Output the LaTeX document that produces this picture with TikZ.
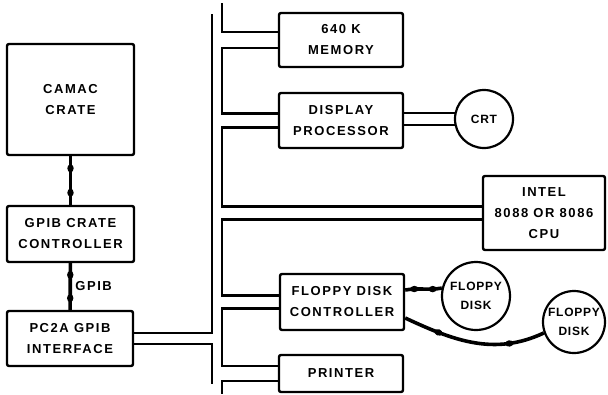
\documentclass[tikz,border=0pt]{standalone}
\usepackage{fontspec}
\newfontfamily\diagfont[LetterSpace=12.0]{Liberation Sans}
\newfontfamily\diskfont[LetterSpace=6.0]{Liberation Sans}
\usetikzlibrary{decorations.markings, calc}

\begin{document}
\begin{tikzpicture}[
    x=1pt, y=-1pt,
    box/.style={rectangle, draw=black, line width=2.4pt, rounded corners=2pt,
                minimum width=124pt, minimum height=55pt, inner sep=0pt,
                align=center, font=\diagfont\bfseries\fontsize{13}{21}\selectfont},
    disk/.style={circle, draw=black, line width=2.2pt, inner sep=0pt,
                align=center, font=\diskfont\bfseries\fontsize{12}{19}\selectfont},
    bus/.style={line width=2.3pt},
    link/.style={line width=3.6pt, postaction={decorate},
                decoration={markings,
                  mark=at position 0.25 with {\fill (0,0) ellipse (4pt and 3.2pt);},
                  mark=at position 0.75 with {\fill (0,0) ellipse (4pt and 3.2pt);}}},
    label/.style={font=\diagfont\bfseries\fontsize{13}{14}\selectfont}
]
\useasboundingbox (0,0) rectangle (608,394);

\node[box, minimum width=127pt, minimum height=111pt] (camac) at (70.5,99.5) {CAMAC\\CRATE};
\node[box, minimum width=127pt, minimum height=56pt] (gpibctl) at (70.5,234) {GPIB CRATE\\CONTROLLER};
\node[box, minimum width=126pt, minimum height=55pt] (pcia) at (70,338.5) {PC2A GPIB\\INTERFACE};

\node[box, minimum height=54pt] (memory) at (341,40) {640 K\\MEMORY};
\node[box] (display) at (341,120.5) {DISPLAY\\PROCESSOR};
\node[disk, minimum size=58pt] (crt) at (484,119) {CRT};
\node[box, minimum width=122pt, minimum height=74pt] (intel) at (544,213) {INTEL\\8088 OR 8086\\CPU};
\node[box, minimum height=56pt] (fdc) at (342,302) {FLOPPY DISK\\CONTROLLER};
\node[disk, minimum size=68pt] (fd1) at (476,296) {FLOPPY\\DISK};
\node[disk, minimum size=62pt] (fd2) at (574,322) {FLOPPY\\DISK};
\node[box, minimum height=37pt] (printer) at (341,373.5) {PRINTER};

\coordinate (busI) at (222,0);
\coordinate (busItop) at (222,3);
\coordinate (busIbot) at (222,394);
\coordinate (busOtop) at (212,14);
\coordinate (busObot) at (212,384);
\coordinate (memA) at ([yshift=8pt]memory.west);
\coordinate (memB) at ([yshift=-8pt]memory.west);
\coordinate (dspA) at ([yshift=7pt]display.west);
\coordinate (dspB) at ([yshift=-7pt]display.west);
\coordinate (cpuA) at ([yshift=6.5pt]intel.west);
\coordinate (cpuB) at ([yshift=-6.5pt]intel.west);
\coordinate (fdcA) at ([yshift=6.5pt]fdc.west);
\coordinate (fdcB) at ([yshift=-6.5pt]fdc.west);
\coordinate (prnA) at ([yshift=7.5pt]printer.west);
\coordinate (prnB) at ([yshift=-7.5pt]printer.west);
\coordinate (pciA) at ([yshift=5.5pt]pcia.east);
\coordinate (pciB) at ([yshift=-5.5pt]pcia.east);

\draw[bus] (busItop) |- (memA);
\draw[bus] (memB) -| (busI |- dspA) -- (dspA);
\draw[bus] (dspB) -| (busI |- cpuA) -- (cpuA);
\draw[bus] (cpuB) -| (busI |- fdcA) -- (fdcA);
\draw[bus] (fdcB) -| (busI |- prnA) -- (prnA);
\draw[bus] (prnB) -| (busIbot);
\draw[bus] (pciA) -| (busOtop);
\draw[bus] (pciB) -| (busObot);

\draw[bus] (display.east |- crt.168) -- (crt.168);
\draw[bus] (display.east |- crt.192) -- (crt.192);

\draw[link] (camac) -- (gpibctl);
\draw[link] (gpibctl) -- node[right, label]{GPIB} (pcia);
\draw[link] ([yshift=12pt]fdc.east) to[out=10, in=190] (fd1.167);
\draw[link] ([yshift=-16pt]fdc.east) to[out=-25, in=205] (fd2.200);

\end{tikzpicture}
\end{document}
